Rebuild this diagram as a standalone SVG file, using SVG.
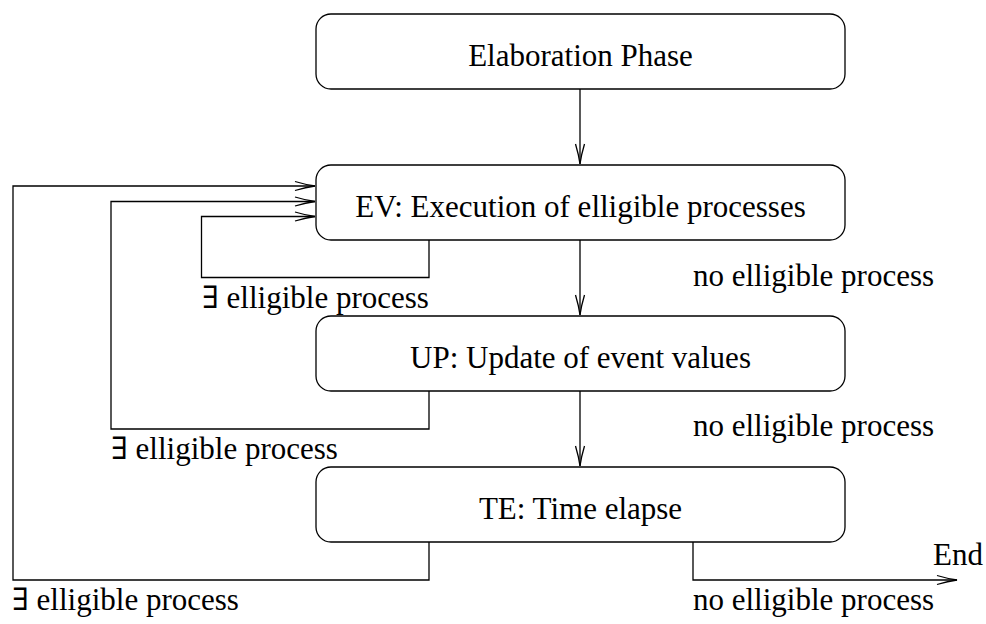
<svg xmlns="http://www.w3.org/2000/svg" width="986" height="624" viewBox="0 0 986 624">
<style>
.box{fill:#fff;stroke:#000;stroke-width:1.3}
.ln{fill:none;stroke:#000;stroke-width:1.3}
.t{font-family:"Liberation Serif","DejaVu Serif",serif;font-size:31px;fill:#000}
.c{text-anchor:middle}
</style>
<defs>
<marker id="arr" markerUnits="userSpaceOnUse" viewBox="-22 -6 24 12" refX="0" refY="0" markerWidth="24" markerHeight="12" orient="auto">
<path d="M-20,-4.5 Q-9,-1.2 0,0 Q-9,1.2 -20,4.5" fill="none" stroke="#000" stroke-width="1.3"/>
</marker>
</defs>
<g id="connectors">
<path class="ln" d="M580,89 V164" marker-end="url(#arr)"/>
<path class="ln" d="M580,240 V315" marker-end="url(#arr)"/>
<path class="ln" d="M580,391 V466" marker-end="url(#arr)"/>
<path class="ln" d="M429,240 V277.5 H201.5 V216.5 H315" marker-end="url(#arr)"/>
<path class="ln" d="M429,391 V429 H111 V201.5 H315" marker-end="url(#arr)"/>
<path class="ln" d="M429,542 V580 H13 V186 H315" marker-end="url(#arr)"/>
<path class="ln" d="M693,542 V580 H957" marker-end="url(#arr)"/>
<text class="t" x="202" y="308">∃ elligible process</text>
<text class="t" x="111" y="459">∃ elligible process</text>
<text class="t" x="12" y="610">∃ elligible process</text>
<text class="t" x="693" y="286">no elligible process</text>
<text class="t" x="693" y="436">no elligible process</text>
<text class="t" x="693" y="610">no elligible process</text>
<text class="t" x="933" y="565">End</text>
</g>
<g id="elab">
<rect class="box" x="316" y="14" width="529" height="75" rx="15"/>
<text class="t c" x="580.5" y="66">Elaboration Phase</text>
</g>
<g id="ev">
<rect class="box" x="316" y="165" width="529" height="75" rx="15"/>
<text class="t c" x="580.5" y="217">EV: Execution of elligible processes</text>
</g>
<g id="up">
<rect class="box" x="316" y="316" width="529" height="75" rx="15"/>
<text class="t c" x="580.5" y="368">UP: Update of event values</text>
</g>
<g id="te">
<rect class="box" x="316" y="467" width="529" height="75" rx="15"/>
<text class="t c" x="580.5" y="519">TE: Time elapse</text>
</g>
</svg>
